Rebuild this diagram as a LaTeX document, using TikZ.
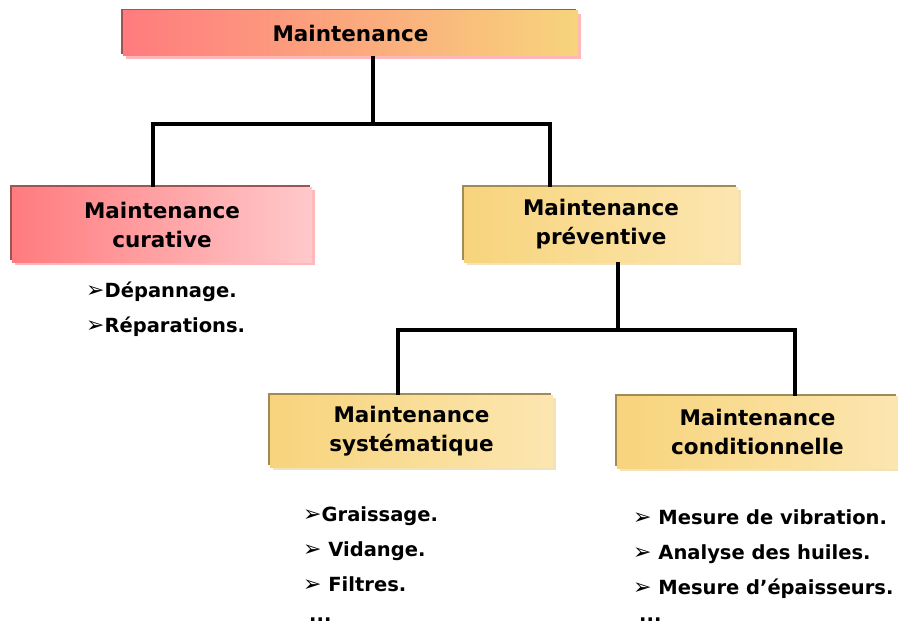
\documentclass[tikz,border=0pt]{standalone}
\usepackage{fontspec}
\setmainfont{DejaVu Sans}
\usetikzlibrary{shadows}
\definecolor{redA}{HTML}{FF7B7E}
\definecolor{pinkB}{HTML}{FFC9CB}
\definecolor{yelA}{HTML}{F7D47C}
\definecolor{yelB}{HTML}{FCE6B0}
\definecolor{edgeRed}{HTML}{9A5555}
\definecolor{edgeYel}{HTML}{A08A55}
\definecolor{shPink}{HTML}{FFB8BA}
\definecolor{shYel}{HTML}{F3E2B8}
\tikzset{
  box/.style={minimum width=#1, inner sep=0pt, align=center,
    font=\fontsize{21.5}{29}\selectfont\bfseries},
  redbox/.style={
    general shadow={fill=shPink, shadow xshift=3pt, shadow yshift=-3pt},
    general shadow={fill=edgeRed, shadow xshift=-2pt, shadow yshift=2pt}},
  yelbox/.style={left color=yelA, right color=yelB,
    general shadow={fill=shYel, shadow xshift=3pt, shadow yshift=-3pt},
    general shadow={fill=edgeYel, shadow xshift=-2pt, shadow yshift=2pt}},
  link/.style={line width=3.5pt, black},
  item/.style={anchor=base west, inner sep=0pt,
    font=\fontsize{19.5}{22}\selectfont\bfseries},
}
\newcommand{\arr}{{\fontsize{22}{22}\selectfont\mdseries ➢}}
\begin{document}
\begin{tikzpicture}[x=1pt,y=-1pt]
\useasboundingbox (0,0) rectangle (898,624);
\fill[white] (0,0) rectangle (898,624);

% boxes
\node[box=455pt, minimum height=45pt, redbox, left color=redA, right color=yelA]
  (top) at (350.5,33) {\raisebox{-3pt}{Maintenance}};
\node[box=300pt, minimum height=75pt, redbox, left color=redA, right color=pinkB]
  (cur) at (162,224.5) {Maintenance\\curative};
\node[box=274pt, minimum height=75pt, yelbox] (prev) at (601,224.5) {Maintenance\\préventive};
\node[box=283pt, minimum height=72pt, yelbox] (sys) at (411.5,431) {Maintenance\\systématique};
\node[box=281pt, minimum height=72pt, yelbox] (cond) at (757.5,432) {Maintenance\\conditionnelle};

% connectors
\coordinate (j1) at (373,124);
\coordinate (l1) at (153,124);
\coordinate (r1) at (550,124);
\draw[link] (j1 |- top.south) -- (j1);
\draw[link] (l1 |- cur.north) -- (l1) -- (r1) -- (r1 |- prev.north);
\coordinate (j2) at (618,330);
\coordinate (l2) at (398,330);
\coordinate (r2) at (795,330);
\draw[link] (j2 |- prev.south) -- (j2);
\draw[link] (l2 |- sys.north) -- (l2) -- (r2) -- (r2 |- cond.north);

% lists
\node[item] (c1) at (86,297) {\arr Dépannage.};
\node[item] (c2) at (86,332) {\arr Réparations.};
\node[item] (s1) at (303,521) {\arr Graissage.};
\node[item] (s2) at (303,556) {\arr\ Vidange.};
\node[item] (s3) at (303,591) {\arr\ Filtres.};
\node[item] (s4) at (309,621) {...};
\node[item] (k1) at (633,524) {\arr\ Mesure de vibration.};
\node[item] (k2) at (633,559) {\arr\ Analyse des huiles.};
\node[item] (k3) at (633,594) {\arr\ Mesure d’épaisseurs.};
\node[item] (k4) at (639,621) {...};
\end{tikzpicture}
\end{document}
